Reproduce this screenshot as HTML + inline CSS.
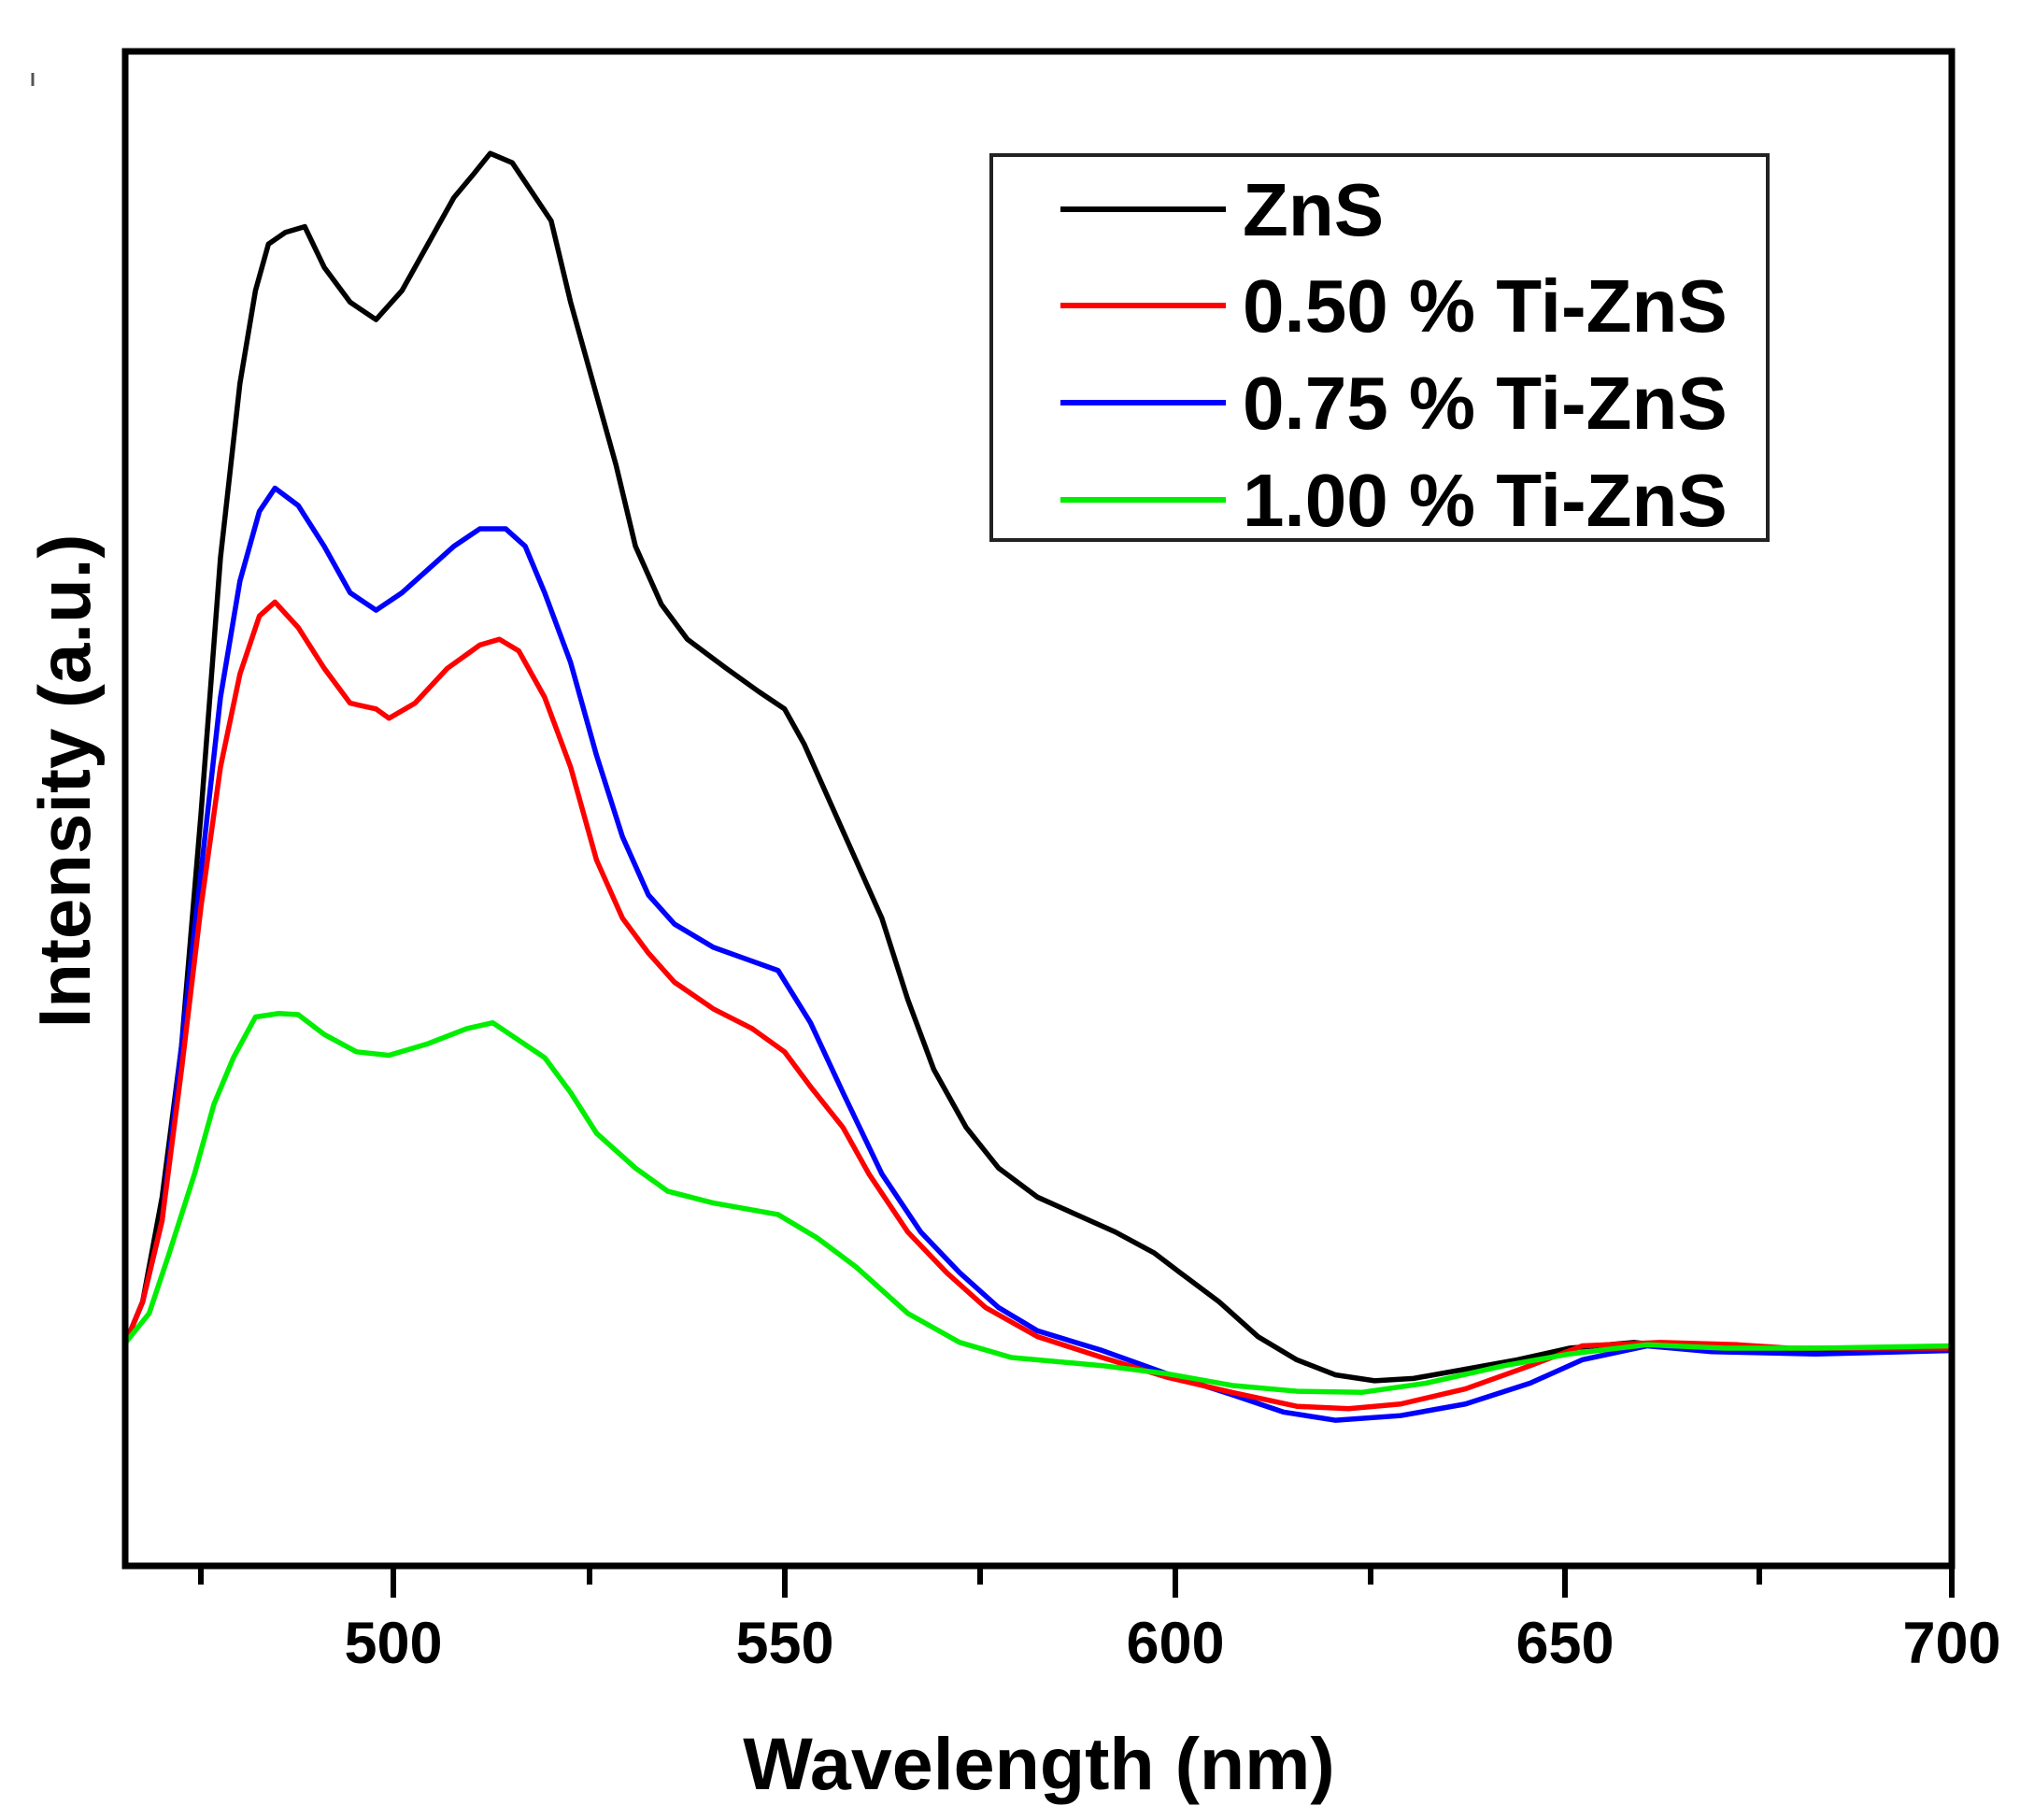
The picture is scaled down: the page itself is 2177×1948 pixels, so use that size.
<!DOCTYPE html>
<html><head><meta charset="utf-8"><style>html,body{margin:0;padding:0;background:#fff}svg{display:block}</style></head><body>
<svg width="2177" height="1948" viewBox="0 0 2177 1948" xmlns="http://www.w3.org/2000/svg" font-family="Liberation Sans, sans-serif" font-weight="bold">
<rect width="2177" height="1948" fill="#fff"/>
<g transform="scale(1.388,1.244)" fill="none" stroke-width="5.5" stroke-linejoin="round" stroke-linecap="round">
<polyline vector-effect="non-scaling-stroke" stroke="#000" points="97,1155 110,1120 125,1030 140,900 155,700 170,480 185,330 197,250 207,210 220,200 235,195 250,230 270,260 290,275 310,250 330,210 350,170 365,150 378,132 395,140 410,165 425,190 440,260 460,340 475,400 490,470 510,520 530,550 560,575 585,595 605,610 620,640 640,690 660,740 680,790 700,860 720,920 745,970 770,1005 800,1030 830,1045 860,1060 890,1078 910,1095 940,1120 970,1150 1000,1170 1030,1183 1060,1188 1090,1186 1130,1178 1170,1170 1210,1160 1260,1155 1320,1162 1380,1163 1440,1162 1505,1160"/>
<polyline vector-effect="non-scaling-stroke" stroke="#0000ff" points="97,1155 110,1120 125,1050 140,900 155,750 170,600 185,500 200,440 212,420 230,435 250,470 270,510 290,525 310,510 330,490 350,470 370,455 390,455 405,470 420,510 440,570 460,650 480,720 500,770 520,795 550,815 575,825 600,835 625,880 650,940 680,1010 710,1060 740,1095 770,1125 800,1145 850,1162 900,1182 950,1200 990,1215 1030,1222 1080,1218 1130,1208 1180,1190 1220,1170 1270,1158 1320,1163 1400,1165 1505,1162"/>
<polyline vector-effect="non-scaling-stroke" stroke="#ff0000" points="97,1155 110,1120 125,1050 140,920 155,780 170,660 185,580 200,530 212,518 230,540 250,575 270,605 290,610 300,618 320,605 345,575 370,555 385,550 400,560 420,600 440,660 460,740 480,790 500,820 520,845 550,868 580,885 605,905 625,935 650,970 670,1010 700,1060 730,1095 760,1125 800,1150 850,1168 900,1185 950,1198 1000,1210 1040,1212 1080,1208 1130,1195 1180,1175 1220,1158 1280,1155 1340,1157 1380,1160 1505,1160"/>
<polyline vector-effect="non-scaling-stroke" stroke="#00ee00" points="97,1155 115,1130 130,1080 150,1010 165,950 180,910 197,875 215,872 230,873 250,890 275,905 300,908 330,898 360,885 380,880 400,895 420,910 440,940 460,975 490,1005 515,1025 550,1035 600,1045 630,1065 660,1090 700,1130 740,1155 780,1168 850,1175 900,1182 950,1192 1000,1197 1050,1198 1100,1190 1160,1175 1210,1165 1270,1157 1330,1160 1400,1160 1505,1158"/>
</g>
<rect x="134" y="55" width="1955" height="1621" fill="none" stroke="#000" stroke-width="7"/>
<g stroke="#000" stroke-width="6">
<line x1="421" y1="1676" x2="421" y2="1710"/><line x1="840" y1="1676" x2="840" y2="1710"/><line x1="1258" y1="1676" x2="1258" y2="1710"/><line x1="1675" y1="1676" x2="1675" y2="1710"/><line x1="2089" y1="1676" x2="2089" y2="1710"/>
<line x1="215" y1="1676" x2="215" y2="1696"/><line x1="631" y1="1676" x2="631" y2="1696"/><line x1="1049" y1="1676" x2="1049" y2="1696"/><line x1="1467" y1="1676" x2="1467" y2="1696"/><line x1="1883" y1="1676" x2="1883" y2="1696"/>
</g>
<g font-size="63" text-anchor="middle">
<text x="421" y="1780">500</text><text x="840" y="1780">550</text><text x="1258" y="1780">600</text><text x="1675" y="1780">650</text><text x="2089" y="1780">700</text>
</g>
<text x="1112" y="1915" font-size="79" text-anchor="middle">Wavelength (nm)</text>
<text transform="translate(96,836) rotate(-90)" font-size="78" text-anchor="middle">Intensity (a.u.)</text>
<rect x="1061" y="166" width="831" height="412" fill="#fff" stroke="#222" stroke-width="4"/>
<g stroke-width="6">
<line x1="1135" y1="224" x2="1312" y2="224" stroke="#000"/>
<line x1="1135" y1="327" x2="1312" y2="327" stroke="#ff0000"/>
<line x1="1135" y1="431" x2="1312" y2="431" stroke="#0000ff"/>
<line x1="1135" y1="535" x2="1312" y2="535" stroke="#00ee00"/>
</g>
<g font-size="80">
<text x="1330" y="252">ZnS</text>
<text x="1330" y="355">0.50 % Ti-ZnS</text>
<text x="1330" y="459">0.75 % Ti-ZnS</text>
<text x="1330" y="563">1.00 % Ti-ZnS</text>
</g>
<line x1="35" y1="78" x2="35" y2="92" stroke="#555" stroke-width="3"/>
</svg>
</body></html>
